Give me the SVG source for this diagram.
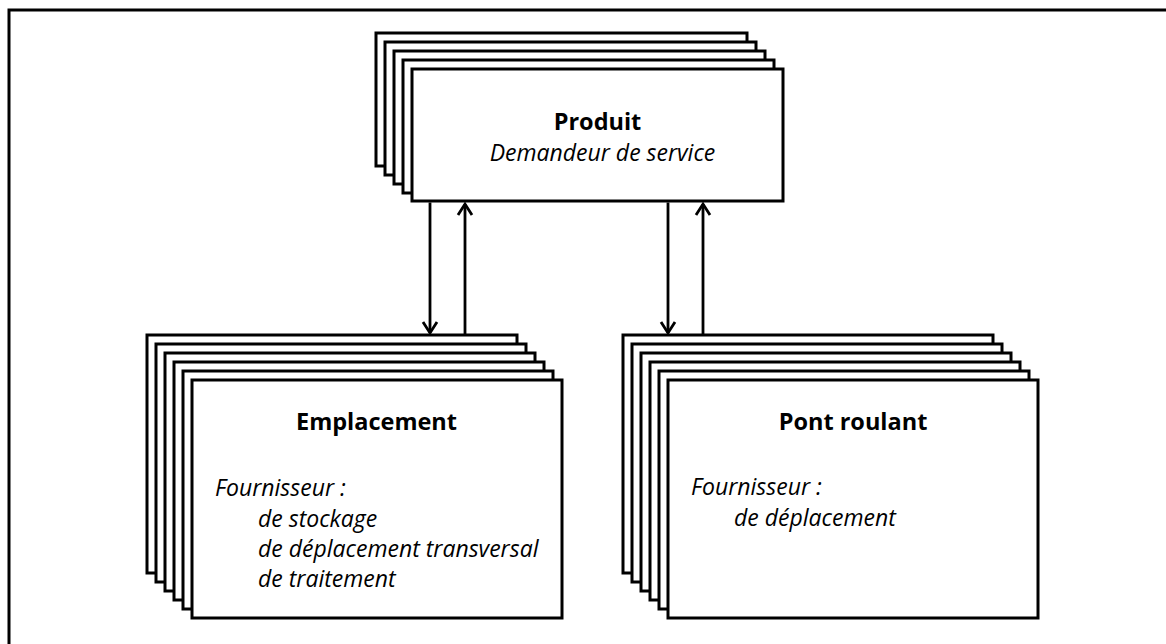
<svg xmlns="http://www.w3.org/2000/svg" width="1166" height="644" viewBox="0 0 1166 644">
  <style>
    .box { fill: #ffffff; stroke: #000000; stroke-width: 3; }
    .frame { fill: none; stroke: #000000; stroke-width: 3; }
    .conn { fill: none; stroke: #000000; stroke-width: 2.8; }
    .title { font-family: "Open Sans", "Noto Sans", sans-serif; font-weight: bold; font-size: 23.5px; fill: #000000; }
    .sub { font-family: "Open Sans", "Noto Sans", sans-serif; font-style: italic; font-size: 23px; fill: #000000; }
  </style>
  <defs>
    <marker id="arrow" markerUnits="userSpaceOnUse" markerWidth="20" markerHeight="20" refX="0" refY="0" viewBox="-12 -10 14 20" orient="auto">
      <path d="M-11,-7 L0,0 L-11,7" fill="none" stroke="#000000" stroke-width="2.8"/>
    </marker>
  </defs>
  <rect x="0" y="0" width="1166" height="644" fill="#ffffff"/>
  <path class="frame" d="M9,646 V10 H1168"/>

  <g id="produit">
    <rect class="box" x="376" y="33" width="371" height="133"/>
    <rect class="box" x="385" y="42" width="371" height="133"/>
    <rect class="box" x="394" y="51" width="371" height="133"/>
    <rect class="box" x="403" y="60" width="371" height="133"/>
    <rect class="box" x="412" y="69" width="371" height="132"/>
    <text class="title" x="597.5" y="130" text-anchor="middle">Produit</text>
    <text class="sub" x="602.5" y="161" text-anchor="middle">Demandeur de service</text>
  </g>

  <g id="emplacement">
    <rect class="box" x="147" y="335" width="370" height="238"/>
    <rect class="box" x="156" y="344" width="370" height="238"/>
    <rect class="box" x="165" y="353" width="370" height="238"/>
    <rect class="box" x="174" y="362" width="370" height="238"/>
    <rect class="box" x="183" y="371" width="370" height="238"/>
    <rect class="box" x="192" y="380" width="370" height="238"/>
    <text class="title" x="376.5" y="430" text-anchor="middle">Emplacement</text>
    <text class="sub" x="215" y="496">Fournisseur :</text>
    <text class="sub" x="258" y="527">de stockage</text>
    <text class="sub" x="258" y="557">de déplacement transversal</text>
    <text class="sub" x="258" y="587">de traitement</text>
  </g>

  <g id="pont-roulant">
    <rect class="box" x="623" y="335" width="370" height="238"/>
    <rect class="box" x="632" y="344" width="370" height="238"/>
    <rect class="box" x="641" y="353" width="370" height="238"/>
    <rect class="box" x="650" y="362" width="370" height="238"/>
    <rect class="box" x="659" y="371" width="370" height="238"/>
    <rect class="box" x="668" y="380" width="370" height="238"/>
    <text class="title" x="853" y="430" text-anchor="middle">Pont roulant</text>
    <text class="sub" x="691" y="495">Fournisseur :</text>
    <text class="sub" x="734" y="526">de déplacement</text>
  </g>

  <g id="connectors">
    <line class="conn" x1="430" y1="202.5" x2="430" y2="333" marker-end="url(#arrow)"/>
    <line class="conn" x1="465" y1="334" x2="465" y2="204" marker-end="url(#arrow)"/>
    <line class="conn" x1="668" y1="202.5" x2="668" y2="333" marker-end="url(#arrow)"/>
    <line class="conn" x1="703" y1="334" x2="703" y2="204" marker-end="url(#arrow)"/>
  </g>
</svg>
